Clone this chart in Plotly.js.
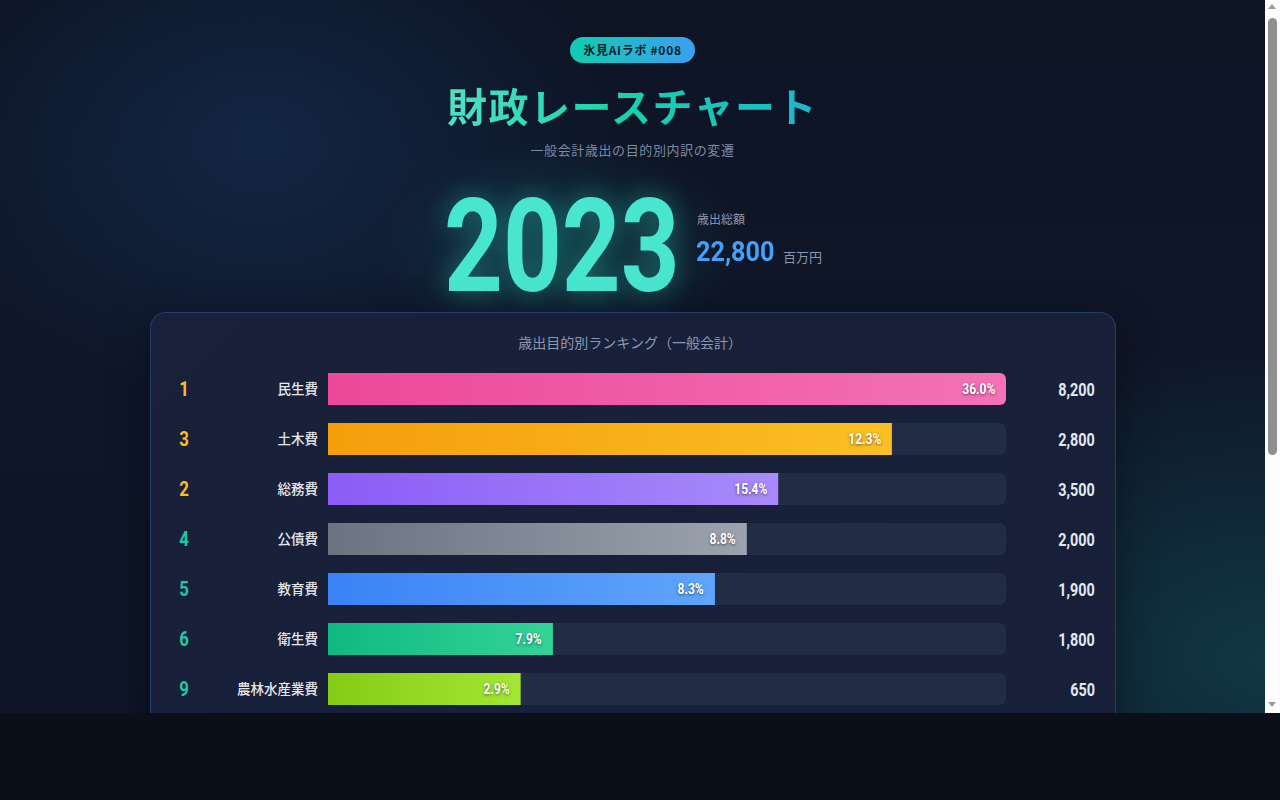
<!DOCTYPE html>
<html lang="ja">
<head>
<meta charset="utf-8">
<script src="https://cdn.plot.ly/plotly-3.0.1.min.js"></script>
<style>
  html, body { margin:0; padding:0; background:#0a0f1a; width:1280px; height:800px; overflow:hidden; }
  #viewport { position:absolute; left:0; top:0; width:1265px; height:713px; overflow:hidden; }
  #page { position:relative; width:1265px; height:713px;
    background:
      radial-gradient(520px 380px at 260px 140px, rgba(22,52,92,0.55), rgba(22,52,92,0) 70%),
      radial-gradient(600px 460px at 1260px 660px, rgba(18,78,88,0.6), rgba(18,78,88,0) 70%),
      radial-gradient(260px 150px at 560px 245px, rgba(20,110,110,0.35), rgba(20,110,110,0) 70%),
      linear-gradient(180deg, #0d1424 0%, #0f1628 40%, #0e1526 100%);
    font-family: "Noto Sans CJK JP", "Noto Sans", sans-serif; }
  .abs { position:absolute; }
  #badge { left:570px; top:37px; width:125px; height:26px; border-radius:13px;
    background:linear-gradient(90deg,#10cdb0,#3b9ff2); color:#0b1a2a; font-weight:700; font-size:12px;
    letter-spacing:0.7px; line-height:26px; text-align:center; }
  #title { left:0; width:1265px; top:78px; text-align:center; font-size:40px; font-weight:700; letter-spacing:1.5px; line-height:54px; }
  #title span { background:linear-gradient(90deg,#4fe0c2 0%,#14d2ae 50%,#1cb6cc 100%); -webkit-background-clip:text; background-clip:text; color:transparent; }
  #subtitle { left:0; width:1265px; top:140px; text-align:center; font-size:13px; color:#7d8aa3; letter-spacing:0.6px; line-height:20px; }
  #year { left:444px; top:182px; font-family:Roboto,sans-serif; font-weight:700; font-size:130px; line-height:130px; color:#48e6cf;
    text-shadow:0 0 30px rgba(45,212,191,0.45); transform:scaleX(0.79); transform-origin:0 0; white-space:nowrap; }
  #totLbl { left:697px; top:210px; font-size:12px; color:#8c97ab; line-height:18px; }
  #totVal { left:696px; top:238px; font-family:Roboto,sans-serif; font-weight:700; font-size:28px; line-height:28px; color:#44a0f8;
    transform:scaleX(0.9); transform-origin:0 0; white-space:nowrap; }
  #totUnit { left:783px; top:248px; font-size:13px; color:#8c97ab; line-height:18px; }
  #card { left:150px; top:312px; width:964px; height:1300px; border:1px solid rgba(64,96,160,0.45); border-radius:16px;
    background:linear-gradient(135deg, #19203a 0%, #182039 60%, #172038 100%); box-shadow:0 10px 40px rgba(0,0,0,0.35); }
  #chart { left:150px; top:312px; width:966px; height:442px; }
  #sbar { position:absolute; left:1265px; top:0; width:15px; height:713px; background:#fdfdfd; }
  #sthumb { position:absolute; left:3px; top:18px; width:9px; height:437px; border-radius:5px; background:#8f8f8f; }
  .arrow { position:absolute; left:3px; width:0; height:0; border-left:4.5px solid transparent; border-right:4.5px solid transparent; }
  #aup { top:4px; border-bottom:5px solid #9a9a9a; }
  #adn { top:702px; border-top:5px solid #9a9a9a; }
</style>
</head>
<body>
<div id="viewport"><div id="page">
  <div id="badge" class="abs">氷見AIラボ #008</div>
  <div id="title" class="abs"><span>財政レースチャート</span></div>
  <div id="subtitle" class="abs">一般会計歳出の目的別内訳の変遷</div>
  <div id="year" class="abs"></div>
  <div id="totLbl" class="abs">歳出総額</div>
  <div id="totVal" class="abs"></div>
  <div id="totUnit" class="abs">百万円</div>
  <div id="card" class="abs"></div>
  <div id="chart" class="abs"></div>
</div></div>
<div id="sbar"><div id="aup" class="arrow"></div><div id="sthumb"></div><div id="adn" class="arrow"></div></div>
<script>
// ---- data ----
const year = 2023;
const totalAmount = 22800;           // 百万円
const categories = ['民生費','土木費','総務費','公債費','教育費','衛生費','農林水産業費'];
const amounts    = [8200, 2800, 3500, 2000, 1900, 1800, 650];   // 百万円
const ranks      = [1, 3, 2, 4, 5, 6, 9];
const shares     = [36.0, 12.3, 15.4, 8.8, 8.3, 7.9, 2.9];       // %
// bar lengths as drawn (race animation frame), 百万円 scale
const barShown   = [8200, 6820, 5445, 5065, 4680, 2720, 2330];
const gradStart  = ['#ec4899','#f59e0b','#8b5cf6','#6b7280','#3b82f6','#10b981','#84cc16'];
const gradEnd    = ['#f472b6','#fbbf24','#a78bfa','#9ca3af','#60a5fa','#34d399','#a3e635'];

document.getElementById('year').textContent = String(year);
document.getElementById('totVal').textContent = totalAmount.toLocaleString('en-US');

const xMax = Math.max(...amounts);
const numFont = 'Roboto, sans-serif';
const jpFont = '"Noto Sans CJK JP","Noto Sans",sans-serif';

const track = {
  type:'bar', orientation:'h', y:categories, x:categories.map(()=>xMax),
  width:0.64, marker:{color:'#232c45', cornerradius:6}, hoverinfo:'skip', showlegend:false
};
const bars = {
  type:'bar', orientation:'h', y:categories, x:barShown,
  width:0.64, marker:{color:gradStart, cornerradius:6}, hoverinfo:'skip', showlegend:false
};

const annotations = [];
const annAnchor = [];
categories.forEach((c,i)=>{
  annotations.push({xref:'paper', yref:'y', x:-0.2125, y:c, text:String(ranks[i]), showarrow:false,
    xanchor:'center', yanchor:'middle',
    font:{family:numFont, size:21, weight:700, color: ranks[i] <= 3 ? '#fbbf24' : '#1fcaa8'}});
  annAnchor.push('center');
  annotations.push({xref:'paper', yref:'y', x:1.1343, y:c, text:amounts[i].toLocaleString('en-US'), showarrow:false,
    xanchor:'right', yanchor:'middle',
    font:{family:numFont, size:18, weight:700, color:'#e2e8f0'}});
  annAnchor.push('right');
  annotations.push({xref:'x', yref:'y', x:barShown[i], y:c, text:shares[i].toFixed(1)+'%', showarrow:false,
    xanchor:'right', yanchor:'middle', xshift:-9,
    font:{family:numFont, size:15, weight:700, color:'#ffffff', shadow:'0px 1px 3px rgba(0,0,0,0.55)'}});
  annAnchor.push('right');
});

const H = 442;
const layout = {
  width:966, height:H,
  margin:{l:178, r:110, t:52, b:40},
  paper_bgcolor:'rgba(0,0,0,0)', plot_bgcolor:'rgba(0,0,0,0)',
  barmode:'overlay',
  title:{text:'歳出目的別ランキング（一般会計）', xref:'container', x:0.497, yref:'container', y:1-31/H,
    xanchor:'center', yanchor:'middle', font:{family:jpFont, size:14, color:'#8d99b2'}},
  xaxis:{range:[0,xMax], visible:false, fixedrange:true},
  yaxis:{type:'category', autorange:'reversed', showgrid:false, zeroline:false, showline:false, ticks:'',
    ticklabelstandoff:9, tickfont:{family:jpFont, size:13.5, color:'#e5e7eb', weight:500}, fixedrange:true},
  annotations:annotations,
  font:{family:jpFont}
};

Plotly.newPlot('chart', [track, bars], layout, {displayModeBar:false, staticPlot:true}).then(gd=>{
  const svg = gd.querySelector('svg.main-svg');
  let defs = svg.querySelector('defs');
  const NS = 'http://www.w3.org/2000/svg';
  gradStart.forEach((s,i)=>{
    const g = document.createElementNS(NS,'linearGradient');
    g.setAttribute('id','barGrad'+i);
    g.setAttribute('x1','0'); g.setAttribute('y1','0'); g.setAttribute('x2','1'); g.setAttribute('y2','0');
    const s1 = document.createElementNS(NS,'stop'); s1.setAttribute('offset','0'); s1.setAttribute('stop-color',s);
    const s2 = document.createElementNS(NS,'stop'); s2.setAttribute('offset','1'); s2.setAttribute('stop-color',gradEnd[i]);
    g.appendChild(s1); g.appendChild(s2); defs.appendChild(g);
  });
  const traces = gd.querySelectorAll('.barlayer .trace');
  const paths = traces[1].querySelectorAll('.point path');
  paths.forEach((p,i)=>{ p.style.fill = 'url(#barGrad'+i+')'; });
  // condensed look for numeric annotation text
  const texts = gd.querySelectorAll('.annotation text.annotation-text');
  texts.forEach((t,i)=>{
    const b = t.getBBox();
    const s = 0.8;
    const cx = annAnchor[i] === 'right' ? b.x + b.width : b.x + b.width/2;
    t.setAttribute('transform', 'translate('+cx+',0) scale('+s+',1) translate('+(-cx)+',0)');
  });
});
</script>
</body>
</html>
